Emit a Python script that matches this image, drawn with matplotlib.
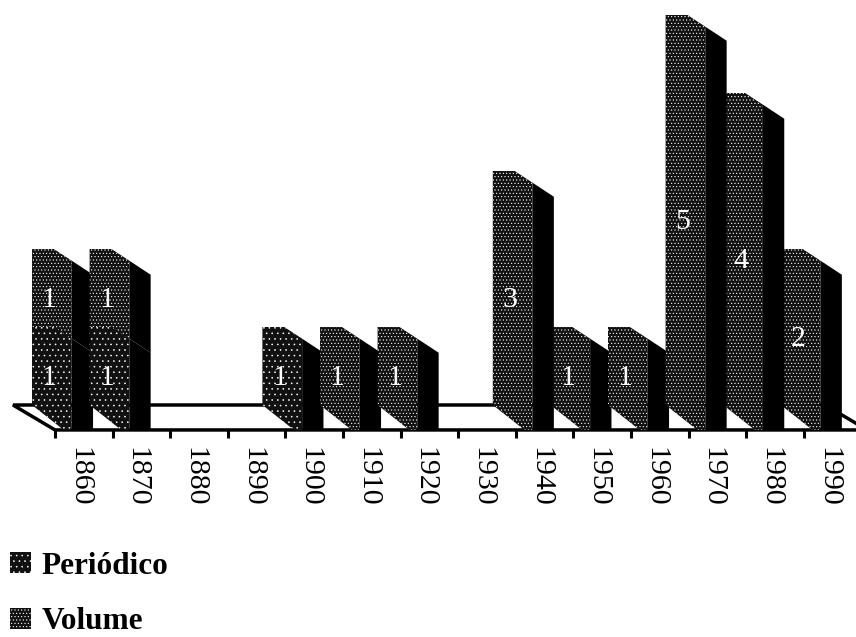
import numpy as np
import matplotlib
matplotlib.use('Agg')
import matplotlib.pyplot as plt
from matplotlib.patches import Patch

# Dados
decadas = ['1860', '1870', '1880', '1890', '1900', '1910', '1920',
           '1930', '1940', '1950', '1960', '1970', '1980', '1990']
periodico = np.array([1, 1, 0, 0, 1, 0, 0, 0, 0, 0, 0, 0, 0, 0])
volume = np.array([1, 1, 0, 0, 0, 1, 1, 0, 3, 1, 1, 5, 4, 2])

# Geometria do falso 3D, em unidades dos eixos (1 x = uma decada, 1 y = uma obra)
FLAT = 0.38
FACE = 0.69
TOTAL = 1.06
DROP_FACE = 0.15
DROP_TOTAL = 0.33
FLOOR = -0.32

HATCH_PERIODICO = '...'
HATCH_VOLUME = '.....'
SERIF = 'Liberation Serif'

plt.rcParams['hatch.color'] = 'white'
plt.rcParams['hatch.linewidth'] = 0.4

fig = plt.figure(figsize=(8.56, 6.37), dpi=100)
ax = fig.add_axes([0, 0, 1, 1])
ax.set_xlim(-32 / 57.6, (856 - 32) / 57.6)
ax.set_ylim((405 - 637) / 78, 405 / 78)
ax.axis('off')

# Chao do grafico
n = len(decadas)
ax.fill([-0.33, n - 0.23, n + 0.5, 0.4], [0, 0, FLOOR, FLOOR], facecolor='white',
        edgecolor='black', linewidth=2.5, zorder=1)
for i in range(n):
    ax.plot([i + 0.4, i + 0.4], [FLOOR, FLOOR - 0.1], color='black', linewidth=2.2,
            zorder=1, solid_capstyle='butt')
    ax.text(i + 0.82, FLOOR - 0.22, decadas[i], rotation=270, ha='center', va='top',
            family=SERIF, fontsize=21.5, color='black')


def segmento(i, base, topo, hatch, z):
    # face clara
    if base == 0:
        xs = [i, i, i + FLAT, i + FACE, i + FACE, i + 0.55, i]
        ys = [0, topo, topo, topo - DROP_FACE, FLOOR, FLOOR, 0]
    else:
        xs = [i, i, i + FLAT, i + FACE, i + FACE, i]
        ys = [base, topo, topo, topo - DROP_FACE, base - DROP_FACE, base]
    ax.fill(xs, ys, facecolor='#111111', hatch=hatch, linewidth=0, zorder=z)
    # lateral escura
    fundo = FLOOR if base == 0 else base - DROP_TOTAL
    ax.fill([i + FACE, i + TOTAL, i + TOTAL, i + FACE],
            [topo - DROP_FACE, topo - DROP_TOTAL, fundo,
             FLOOR if base == 0 else base - DROP_FACE],
            facecolor='black', linewidth=0, zorder=z)


def rotulo(i, base, altura, z):
    ax.text(i + 0.3, base + altura / 2 - 0.15, str(altura), color='white', ha='center',
            va='center', family=SERIF, fontsize=21.5, zorder=z)


# As barras mais altas ficam na frente das vizinhas
for i in range(n):
    total = periodico[i] + volume[i]
    z = 2 + total + i / 100
    if volume[i] > 0:
        segmento(i, periodico[i], total, HATCH_VOLUME, z)
        rotulo(i, periodico[i], volume[i], z + 0.002)
    if periodico[i] > 0:
        segmento(i, 0, periodico[i], HATCH_PERIODICO, z + 0.001)
        rotulo(i, 0, periodico[i], z + 0.002)

handles = [Patch(facecolor='#111111', hatch=HATCH_PERIODICO, linewidth=0, label='Periódico'),
           Patch(facecolor='#111111', hatch=HATCH_VOLUME, linewidth=0, label='Volume')]
ax.legend(handles=handles, loc='lower left', bbox_to_anchor=(0.004, -0.009), frameon=False,
          prop={'family': SERIF, 'weight': 'bold', 'size': 22.5}, handlelength=0.68,
          handleheight=0.68, handletextpad=0.33, labelspacing=0.86, borderpad=0.2,
          borderaxespad=0)

fig.savefig('out.png', dpi=100)
